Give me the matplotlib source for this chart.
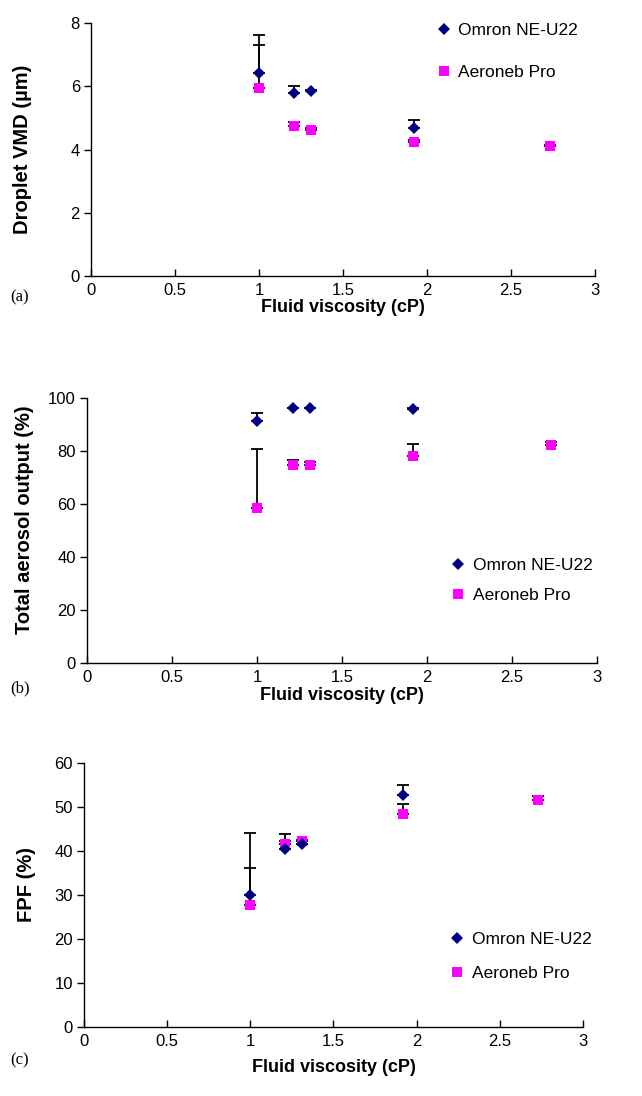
import matplotlib
matplotlib.use("Agg")
import matplotlib.pyplot as plt
from matplotlib.lines import Line2D

# ---------------- data ----------------
x_omron = [1.0, 1.21, 1.31, 1.92]
x_aero = [1.0, 1.21, 1.31, 1.92, 2.73]

vmd_omron = [6.41, 5.78, 5.84, 4.69]
vmd_omron_err = [1.20, 0.22, 0.05, 0.23]
vmd_aero = [5.94, 4.75, 4.63, 4.24, 4.11]
vmd_aero_err = [1.35, 0.12, 0.05, 0.05, 0.04]

tao_omron = [91.4, 96.1, 96.1, 96.0]
tao_omron_err = [3.1, 0.3, 0.3, 0.3]
tao_aero = [58.5, 74.7, 74.6, 78.2, 82.3]
tao_aero_err = [22.1, 1.8, 1.3, 4.5, 1.0]

fpf_omron = [29.9, 40.4, 41.7, 52.8]
fpf_omron_err = [14.1, 3.5, 0.5, 2.3]
fpf_aero = [27.8, 41.5, 42.2, 48.3, 51.7]
fpf_aero_err = [8.3, 0.7, 0.3, 2.3, 0.9]

series_names = ["Omron NE-U22", "Aeroneb Pro"]
x_ticks = [0, 0.5, 1, 1.5, 2, 2.5, 3]
x_tick_labels = ["0", "0.5", "1", "1.5", "2", "2.5", "3"]
y_labels = ["Droplet VMD (\u00b5m)", "Total aerosol output (%)", "FPF (%)"]
x_label = "Fluid viscosity (cP)"
panel_tags = ["(a)", "(b)", "(c)"]

# ---------------- style ----------------
W, H = 642, 1096
fig = plt.figure(figsize=(W / 100, H / 100), dpi=100)
SANS = ["Liberation Sans", "DejaVu Sans"]
SERIF = ["Liberation Serif", "DejaVu Serif"]
OMRON_C = "#000080"
AERO_C = "#FF00FF"
TICK_FS = 12
YLAB_FS = 14.5
XLAB_FS = 13
LEG_FS = 12.5


def px_axes(left, top, right, bottom):
    return fig.add_axes([left / W, 1 - bottom / H, (right - left) / W, (bottom - top) / H])


panels = [
    dict(box=(91, 23, 595, 276), ylim=(0, 8), yticks=[0, 2, 4, 6, 8],
         om=(vmd_omron, vmd_omron_err), ae=(vmd_aero, vmd_aero_err),
         leg=(0.6825, 0.887), legsp=1.55,
         ylab_xy=(23, 149), xlab_y=307, tag_xy=(10, 297)),
    dict(box=(87, 398, 597, 663), ylim=(0, 100), yticks=[0, 20, 40, 60, 80, 100],
         om=(tao_omron, tao_omron_err), ae=(tao_aero, tao_aero_err),
         leg=(0.711, 0.313), legsp=0.85,
         ylab_xy=(25, 520), xlab_y=695, tag_xy=(10, 688)),
    dict(box=(84, 763, 583, 1027), ylim=(0, 60), yticks=[0, 10, 20, 30, 40, 50, 60],
         om=(fpf_omron, fpf_omron_err), ae=(fpf_aero, fpf_aero_err),
         leg=(0.731, 0.267), legsp=1.05,
         ylab_xy=(27, 885), xlab_y=1067, tag_xy=(10, 1060)),
]

for i, p in enumerate(panels):
    ax = px_axes(*p["box"])
    ax.set_xlim(0, 3)
    ax.set_ylim(*p["ylim"])
    for s in ("top", "right"):
        ax.spines[s].set_visible(False)
    for s in ("left", "bottom"):
        ax.spines[s].set_linewidth(1.0)
        ax.spines[s].set_color("black")
    ax.set_xticks(x_ticks)
    ax.set_xticklabels(x_tick_labels)
    ax.set_yticks(p["yticks"])
    ax.tick_params(axis="x", direction="in", length=5, width=1, pad=5,
                   labelsize=TICK_FS, colors="black")
    ax.tick_params(axis="y", direction="out", length=5, width=1, pad=3,
                   labelsize=TICK_FS, colors="black")
    for lab in ax.get_xticklabels() + ax.get_yticklabels():
        lab.set_fontfamily(SANS)

    ae_y, ae_e = p["ae"]
    om_y, om_e = p["om"]
    ax.errorbar(x_aero, ae_y, yerr=[[0] * len(ae_e), ae_e], fmt="none",
                ecolor="black", elinewidth=1.3, capsize=4, capthick=1.3, zorder=3,
                clip_on=False)
    ax.errorbar(x_omron, om_y, yerr=[[0] * len(om_e), om_e], fmt="none",
                ecolor="black", elinewidth=1.3, capsize=4, capthick=1.3, zorder=3,
                clip_on=False)
    ax.plot(x_aero, ae_y, linestyle="none", marker="s", markersize=6.5,
            color=AERO_C, markeredgewidth=0, zorder=4, clip_on=False)
    ax.plot(x_omron, om_y, linestyle="none", marker="D", markersize=6.2,
            color=OMRON_C, markeredgewidth=0, zorder=5, clip_on=False)

    handles = [
        Line2D([], [], linestyle="none", marker="D", markersize=6.2, color=OMRON_C,
               markeredgewidth=0),
        Line2D([], [], linestyle="none", marker="s", markersize=6.5, color=AERO_C,
               markeredgewidth=0),
    ]
    ax.legend(handles, series_names, loc="center left", bbox_to_anchor=p["leg"],
              frameon=False, handlelength=1.0, handletextpad=0.35, borderpad=0,
              borderaxespad=0, labelspacing=p["legsp"],
              prop=dict(family=SANS, size=LEG_FS))

    fig.text(p["ylab_xy"][0] / W, 1 - p["ylab_xy"][1] / H, y_labels[i],
             rotation=90, ha="center", va="center", fontsize=YLAB_FS,
             fontweight="bold", family=SANS)
    cx = (p["box"][0] + p["box"][2]) / 2
    fig.text(cx / W, 1 - p["xlab_y"] / H, x_label, ha="center", va="center",
             fontsize=XLAB_FS, fontweight="bold", family=SANS)
    fig.text(p["tag_xy"][0] / W, 1 - p["tag_xy"][1] / H, panel_tags[i],
             ha="left", va="center", fontsize=12, family=SERIF)

fig.savefig("out.png", dpi=100)
